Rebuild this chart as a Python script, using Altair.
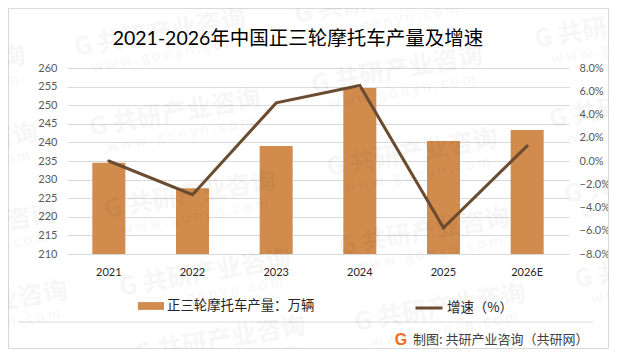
import altair as alt
import pandas as pd

years = ["2021", "2022", "2023", "2024", "2025", "2026E"]
output = [234.5, 227.7, 239.0, 254.6, 240.4, 243.3]
growth = [0.0, -2.9, 5.0, 6.5, -5.75, 1.3]
bar_name = "正三轮摩托车产量：万辆"
line_name = "增速（%）"
title = "2021-2026年中国正三轮摩托车产量及增速"
credit = "制图: 共研产业咨询（共研网）"
mark_cn = "G 共研产业咨询"
mark_en = "w w w . g o n y n . c o m"

# watermark anchors, in pixels from the plot area's top-left corner
wm_x = [-127, -115, -97, -85, 93, 108, 123, 138, 153, 313, 330, 345, 357, 373, 553, 568, 583, 593]
wm_y = [2, 79, 160, 237, -35, 45, 127, 205, 272, -68, 2, 85, 164, 240, -43, 37, 112, 197]

FONT = "Lato, Noto Sans CJK SC, sans-serif"
CJK = "Noto Sans CJK SC, sans-serif"
BAR = "#D18B4D"
LINE = "#6B4C30"
GRID = "#D9D9D9"

df = pd.DataFrame({"year": years, "output": output, "growth": [g / 100 for g in growth],
                   "bar": bar_name, "line": line_name})
x_scale = alt.Scale(domain=years, paddingInner=0.605, paddingOuter=0.3025)

bars = alt.Chart(df).mark_bar(size=33).encode(
    x=alt.X("year:N", sort=years, scale=x_scale, title=None,
            axis=alt.Axis(labelAngle=0, labelFont=FONT, labelFontSize=11, labelColor="#262626",
                          labelPadding=12, ticks=False, domainColor=GRID, grid=False)),
    y=alt.Y("output:Q", scale=alt.Scale(domain=[210, 260], nice=False, clamp=True), title=None,
            axis=alt.Axis(values=list(range(210, 261, 5)), labelFont=FONT, labelFontSize=11,
                          labelColor="#595959", labelPadding=10, ticks=False, domain=False,
                          gridColor=GRID, grid=True, gridWidth=1)),
    fill=alt.Fill("bar:N", scale=alt.Scale(domain=[bar_name], range=[BAR]), title=None,
                  legend=alt.Legend(orient="none", legendX=71, legendY=225, symbolType="M-1,-0.3H1V0.3H-1Z",
                                    symbolSize=676, symbolStrokeWidth=0, labelFont=CJK, labelFontSize=13.4,
                                    labelColor="#262626", labelOffset=3)),
)

line = alt.Chart(df).mark_line(strokeWidth=3, strokeCap="round").encode(
    x=alt.X("year:N", sort=years, scale=x_scale, axis=None),
    y=alt.Y("growth:Q", scale=alt.Scale(domain=[-0.08, 0.08], nice=False), title=None,
            axis=alt.Axis(orient="right", format=".1%", values=[i / 100 for i in range(-8, 9, 2)],
                          labelFont=FONT, labelFontSize=11, labelColor="#595959", labelPadding=10,
                          ticks=False, domain=False, grid=False)),
    stroke=alt.Stroke("line:N", scale=alt.Scale(domain=[line_name], range=[LINE]), title=None,
                      legend=alt.Legend(orient="none", legendX=347, legendY=225, symbolType="M-1,0H1",
                                        symbolSize=729, symbolStrokeWidth=3, labelFont=CJK, labelFontSize=13.4,
                                        labelColor="#262626", labelOffset=3)),
)

wm = pd.DataFrame({"x": wm_x, "y": wm_y})
wm_cn = alt.Chart(wm).mark_text(text=mark_cn, font=CJK, fontSize=25, fontWeight="bold", angle=350,
                                color="#000000", opacity=0.03).encode(
    x=alt.X("x:Q", scale=None), y=alt.Y("y:Q", scale=None))
wm_en = alt.Chart(wm).transform_calculate(y2="datum.y + 22", x2="datum.x + 5").mark_text(
    text=mark_en, font=CJK, fontSize=14, angle=350, color="#000000", opacity=0.035).encode(
    x=alt.X("x2:Q", scale=None), y=alt.Y("y2:Q", scale=None))

one = pd.DataFrame({"a": [0]})
border = alt.Chart(one).mark_rect(fill="transparent", stroke=GRID, strokeWidth=1).encode(
    x=alt.value(-58.5), x2=alt.value(541.5), y=alt.value(-59.5), y2=alt.value(280.5))
rule = alt.Chart(one).mark_rule(color=GRID, strokeWidth=1).encode(
    x=alt.value(-49), x2=alt.value(526), y=alt.value(254))
logo = alt.Chart(one).mark_text(text="G", font="Liberation Sans", fontWeight="bold", fontSize=16,
                                color="#EF6C1F").encode(x=alt.value(334), y=alt.value(272))
foot = alt.Chart(one).mark_text(text=credit, font=CJK, fontSize=13, color="#404040", align="left").encode(
    x=alt.value(346), y=alt.value(272))
head = alt.Chart(one).mark_text(text=title, font=FONT, fontSize=19.5, color="#000000").encode(
    x=alt.value(231), y=alt.value(-29))

chart = alt.layer(bars, line, border, rule, logo, foot, head, wm_cn, wm_en).resolve_scale(
    x="independent", y="independent", fill="independent", stroke="independent"
).properties(
    width=502, height=186,
    padding={"left": 59, "top": 60, "right": 40, "bottom": 95},
    autosize=alt.AutoSizeParams(type="none"),
).configure_view(stroke=None)

chart.save("out.html", embed_options={"renderer": "svg", "actions": False})
